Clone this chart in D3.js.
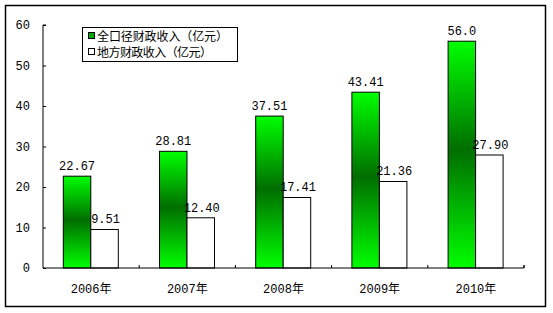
<!DOCTYPE html>
<html><head><meta charset="utf-8">
<script src="https://cdn.jsdelivr.net/npm/d3@7"></script>
<style>body{margin:0;background:#fff;}svg{display:block;}</style>
</head><body>
<svg id="c" width="553" height="313"></svg>
<script>
const categories = ["2006年","2007年","2008年","2009年","2010年"];
const totalRevenue = [22.67, 28.81, 37.51, 43.41, 56.0];
const localRevenue = [9.51, 12.40, 17.41, 21.36, 27.90];
const totalLabels = ["22.67","28.81","37.51","43.41","56.0"];
const localLabels = ["9.51","12.40","17.41","21.36","27.90"];
const seriesNames = ["全口径财政收入（亿元）","地方财政收入（亿元）"];
const yTicks = [0,10,20,30,40,50,60];

const svg = d3.select("#c");
const font = "'Liberation Mono','Noto Sans CJK SC',monospace";
svg.append("rect").attr("x",5.5).attr("y",5.5).attr("width",540).attr("height",301)
  .attr("fill","#fff").attr("stroke","#000").attr("stroke-width",1.5);

const defs = svg.append("defs");
const g = defs.append("linearGradient").attr("id","gr").attr("x1",0).attr("y1",0).attr("x2",0).attr("y2",1);
g.append("stop").attr("offset","0%").attr("stop-color","#00ff00");
g.append("stop").attr("offset","48%").attr("stop-color","#006e00");
g.append("stop").attr("offset","100%").attr("stop-color","#00ff00");

const x0 = 43, x1 = 524, yB = 268, yT = 25;
const x = d3.scaleBand().domain(categories).range([x0,x1]).paddingInner(0).paddingOuter(0);
const y = d3.scaleLinear().domain([0,60]).range([yB,yT]);
const bw = 27.5, off = 20.3;

// y axis
const ya = svg.append("g").attr("transform",`translate(${x0},0)`)
  .call(d3.axisRight(y).tickValues(yTicks).tickSize(3).tickFormat(d3.format("d")));
ya.select(".domain").attr("d",`M3,${yT}H0V${yB}`).attr("stroke","#000");
ya.selectAll("line").attr("stroke","#000");
ya.selectAll("text").attr("x",-13).attr("text-anchor","end").attr("font-family",font).attr("font-size",12).attr("fill","#000");

// bars
categories.forEach((c,i)=>{
  const bx = x(c)+off;
  svg.append("rect").attr("x",bx).attr("y",y(totalRevenue[i])).attr("width",bw)
    .attr("height",yB-y(totalRevenue[i])).attr("fill","url(#gr)").attr("stroke","#000").attr("stroke-width",1);
  svg.append("rect").attr("x",bx+bw).attr("y",y(localRevenue[i])).attr("width",bw)
    .attr("height",yB-y(localRevenue[i])).attr("fill","#fff").attr("stroke","#000").attr("stroke-width",1);
  svg.append("text").attr("x",bx+bw/2).attr("y",y(totalRevenue[i])-6).attr("text-anchor","middle")
    .attr("font-family",font).attr("font-size",12).text(totalLabels[i]);
  svg.append("text").attr("x",bx+bw*1.5+1).attr("y",y(localRevenue[i])-6).attr("text-anchor","middle")
    .attr("font-family",font).attr("font-size",12).text(localLabels[i]);
});

// x axis
const xa = svg.append("g").attr("transform",`translate(0,${yB})`)
  .call(d3.axisBottom(x).tickSize(0).tickPadding(0));
xa.select(".domain").attr("stroke","#000").attr("d",`M${x0},0H${x1}V-3`);
xa.selectAll("text").attr("y",25).attr("dy",0).attr("font-family",font).attr("font-size",12).attr("fill","#000");
const bounds = [x0, ...categories.map(c=>x(c)+x.bandwidth())];
svg.append("g").selectAll("line").data(bounds.slice(1)).join("line")
  .attr("x1",d=>d).attr("x2",d=>d).attr("y1",yB-3).attr("y2",yB).attr("stroke","#000");

// legend
const lg = svg.append("g");
lg.append("rect").attr("x",82.5).attr("y",27.5).attr("width",155).attr("height",34).attr("fill","#fff").attr("stroke","#000");
const lens = [131, 115];
seriesNames.forEach((n,i)=>{
  const cy = 36 + i*16;
  lg.append("rect").attr("x",88.5).attr("y",cy-3.5).attr("width",6).attr("height",6)
    .attr("fill",i===0?"#00aa00":"#fff").attr("stroke","#000");
  lg.append("text").attr("x",97).attr("y",cy+4.5).attr("font-family","'Noto Sans CJK SC',sans-serif")
    .attr("font-size",12).attr("textLength",lens[i]).attr("lengthAdjust","spacing").text(n);
});
</script>
</body></html>
